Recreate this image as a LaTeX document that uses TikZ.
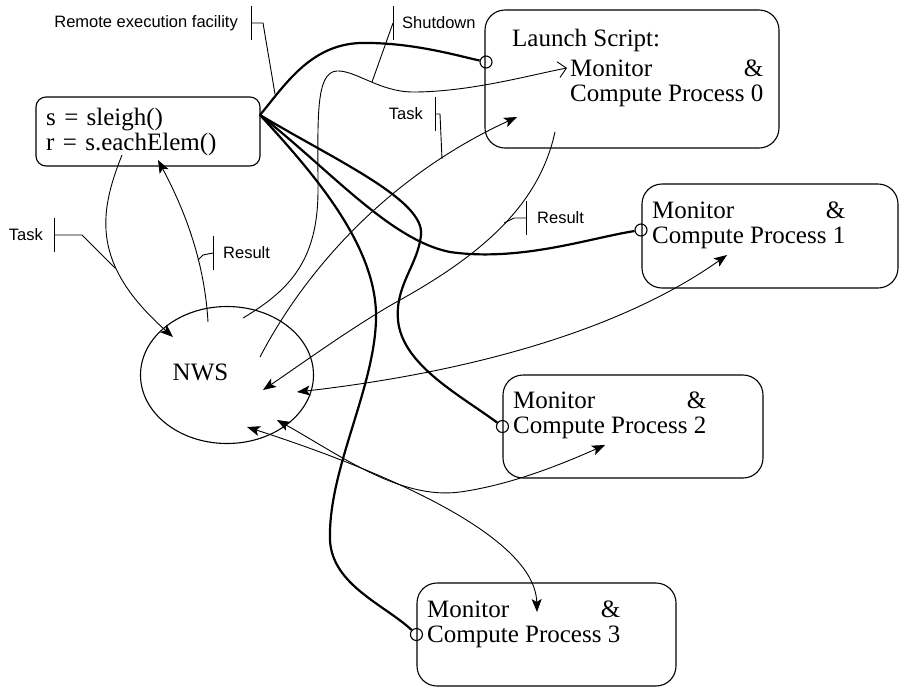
\documentclass[tikz,border=0pt]{standalone}
\usepackage{fontspec}
\setmainfont{Liberation Serif}
\setsansfont{Liberation Sans}
\usetikzlibrary{positioning, calc, shapes.geometric, arrows.meta}

\newcommand{\procname}[1]{\begin{tabular}[t]{@{}l@{}}Monitor\hfill\&\\Compute Process #1\end{tabular}}

\begin{document}
\begin{tikzpicture}[x=1pt, y=-1pt, every node/.style={inner sep=0pt}
    , codebox/.style={draw, line width=1.1pt, rounded corners=10pt}
    , procbox/.style={draw, line width=1.1pt, rounded corners=20pt}
    , big/.style={font=\fontsize{25}{25}\selectfont}
    , proctext/.style={big, anchor=base west}
    , tag/.style={font=\sffamily\fontsize{16.5}{18}\selectfont}
    , port/.style={draw, circle, line width=1.1pt, minimum size=12pt}
    , fine/.style={line width=0.9pt}
    , wire/.style={line width=2.2pt}
    , flow/.style={fine, -{Stealth[length=13pt, width=10pt, inset=3pt]}}
    , duplex/.style={fine, {Stealth[length=13pt, width=10pt, inset=3pt]}-{Stealth[length=13pt, width=10pt, inset=3pt]}}
    ]

    \useasboundingbox (0,0) rectangle (900,689);

    % the client, the server and the four processes
    \node[codebox, minimum width=224pt, minimum height=69pt] (code) at (148,131.5) {};
    \node[big, align=left, text width=200pt, anchor=base west] (codetext) at (46,125) {s = sleigh()\\r = s.eachElem()};

    \node[procbox, minimum width=294pt, minimum height=138pt] (p0) at (632,79) {};
    \node[big, anchor=base west] (launch) at (512,46) {Launch Script:};
    \node[proctext] (p0text) at (570,76) {\procname{0}};

    \node[procbox, minimum width=256pt, minimum height=104pt] (p1) at (770,236) {};
    \node[proctext] (p1text) at (652,218) {\procname{1}};

    \node[procbox, minimum width=260pt, minimum height=103pt] (p2) at (633,426.5) {};
    \node[proctext] (p2text) at (513,408) {\procname{2}};

    \node[procbox, minimum width=259pt, minimum height=103pt] (p3) at (546.5,634.5) {};
    \node[proctext] (p3text) at (427,617) {\procname{3}};

    \node[draw, ellipse, line width=1.1pt, minimum width=173pt, minimum height=137pt] (nws) at (227,375) {};
    \node[big, anchor=base] (nwstext) at (200.5,380) {NWS};

    \node[port] (p0port) at (486,62) {};
    \node[port] (p1port) at (641,230) {};
    \node[port] (p2port) at (p2.west) {};
    \node[port] (p3port) at (p3.west) {};

    % free ends of the connectors
    \coordinate (fan) at (260,115);
    \coordinate (codeout) at (122,155);
    \coordinate (codein) at (158,160);
    \coordinate (nwsin) at (173,337);
    \coordinate (nwsup) at (208,322);
    \coordinate (nwsshut) at (243,318);
    \coordinate (nwstask) at (260,357);
    \coordinate (nwsres) at (263,390);
    \coordinate (nwsone) at (297,392);
    \coordinate (nwstwo) at (277,420);
    \coordinate (nwsthree) at (247,427);
    \coordinate (p0in) at (567,68);
    \coordinate (p0task) at (517,117);
    \coordinate (p0res) at (555,132);
    \coordinate (p1in) at (727,255);
    \coordinate (p2in) at (605,445);
    \coordinate (p3in) at (537,612);

    % remote execution of the launch script
    \draw[wire] (fan) .. controls (285,85) and (310,45) .. (360,43)
        .. controls (410,42) and (455,55) .. (p0port);
    \draw[wire] (fan) .. controls (330,170) and (390,240) .. (450,252)
        .. controls (520,262) and (590,238) .. (p1port);
    \draw[wire] (fan) .. controls (335,160) and (425,200) .. (421,235)
        .. controls (418,265) and (395,285) .. (398,320)
        .. controls (402,365) and (460,395) .. (p2port);
    \draw[wire] (fan) .. controls (320,180) and (378,250) .. (376,320)
        .. controls (374,390) and (328,470) .. (330,540)
        .. controls (332,585) and (385,605) .. (p3port);

    % tasks and results
    \draw[fine, -{Straight Barb[length=8pt, width=16pt]}] (nwsshut)
        .. controls (290,290) and (318,260) .. (318,190)
        .. controls (318,120) and (315,72) .. (337,71)
        .. controls (355,70) and (380,92) .. (413,92)
        .. controls (470,92) and (530,75) .. (p0in);
    \draw[flow] (nwstask) .. controls (300,280) and (380,180) .. (p0task);
    \draw[flow] (p0res) .. controls (540,200) and (490,250) .. (400,300)
        .. controls (355,325) and (300,365) .. (nwsres);
    \draw[duplex] (nwsone) .. controls (420,378) and (600,345) .. (p1in);
    \draw[duplex] (nwstwo) .. controls (340,455) and (400,500) .. (460,492)
        .. controls (510,485) and (560,465) .. (p2in);
    \draw[duplex] (nwsthree) .. controls (380,470) and (535,535) .. (p3in);
    \draw[flow] (codeout) .. controls (98,215) and (92,265) .. (nwsin);
    \draw[flow] (nwsup) .. controls (205,270) and (190,220) .. (codein);

    % callouts
    \coordinate (rbar) at (251,23);
    \coordinate (sbar) at (393,23);
    \coordinate (tbar) at (435,114);
    \coordinate (rrbar) at (526,218);
    \coordinate (ltbar) at (54,235);
    \coordinate (lrbar) at (213,253);
    \coordinate (rhit) at (275,94);
    \coordinate (shit) at (372,82);
    \coordinate (thit) at (442,159);
    \coordinate (rrhit) at (504,223);
    \coordinate (lthit) at (115,268);
    \coordinate (lrhit) at (198,260);

    \node[tag, left=13pt of rbar] (rlab) {Remote execution facility};
    \node[tag, right=9pt of sbar] (slab) {Shutdown};
    \node[tag, left=12pt of tbar] (tlab) {Task};
    \node[tag, right=11pt of rrbar] (rrlab) {Result};
    \node[tag, left=11pt of ltbar] (ltlab) {Task};
    \node[tag, right=10pt of lrbar] (lrlab) {Result};

    \foreach \b in {rbar, sbar, tbar, rrbar, ltbar, lrbar}
        \draw[fine] ($(\b)+(0,-17)$) -- ($(\b)+(0,17)$);

    \draw[fine] (rbar) -- ++(12,0) -- (rhit);
    \draw[fine] (sbar) -- (shit);
    \draw[fine] (tbar) -- ++(5,0) -- (thit);
    \draw[fine] (rrbar) -- ++(-12,0) -- (rrhit);
    \draw[fine] (ltbar) -- ++(28,0) -- (lthit);
    \draw[fine] (lrbar) -- ++(-10,2) -- (lrhit);

\end{tikzpicture}
\end{document}
